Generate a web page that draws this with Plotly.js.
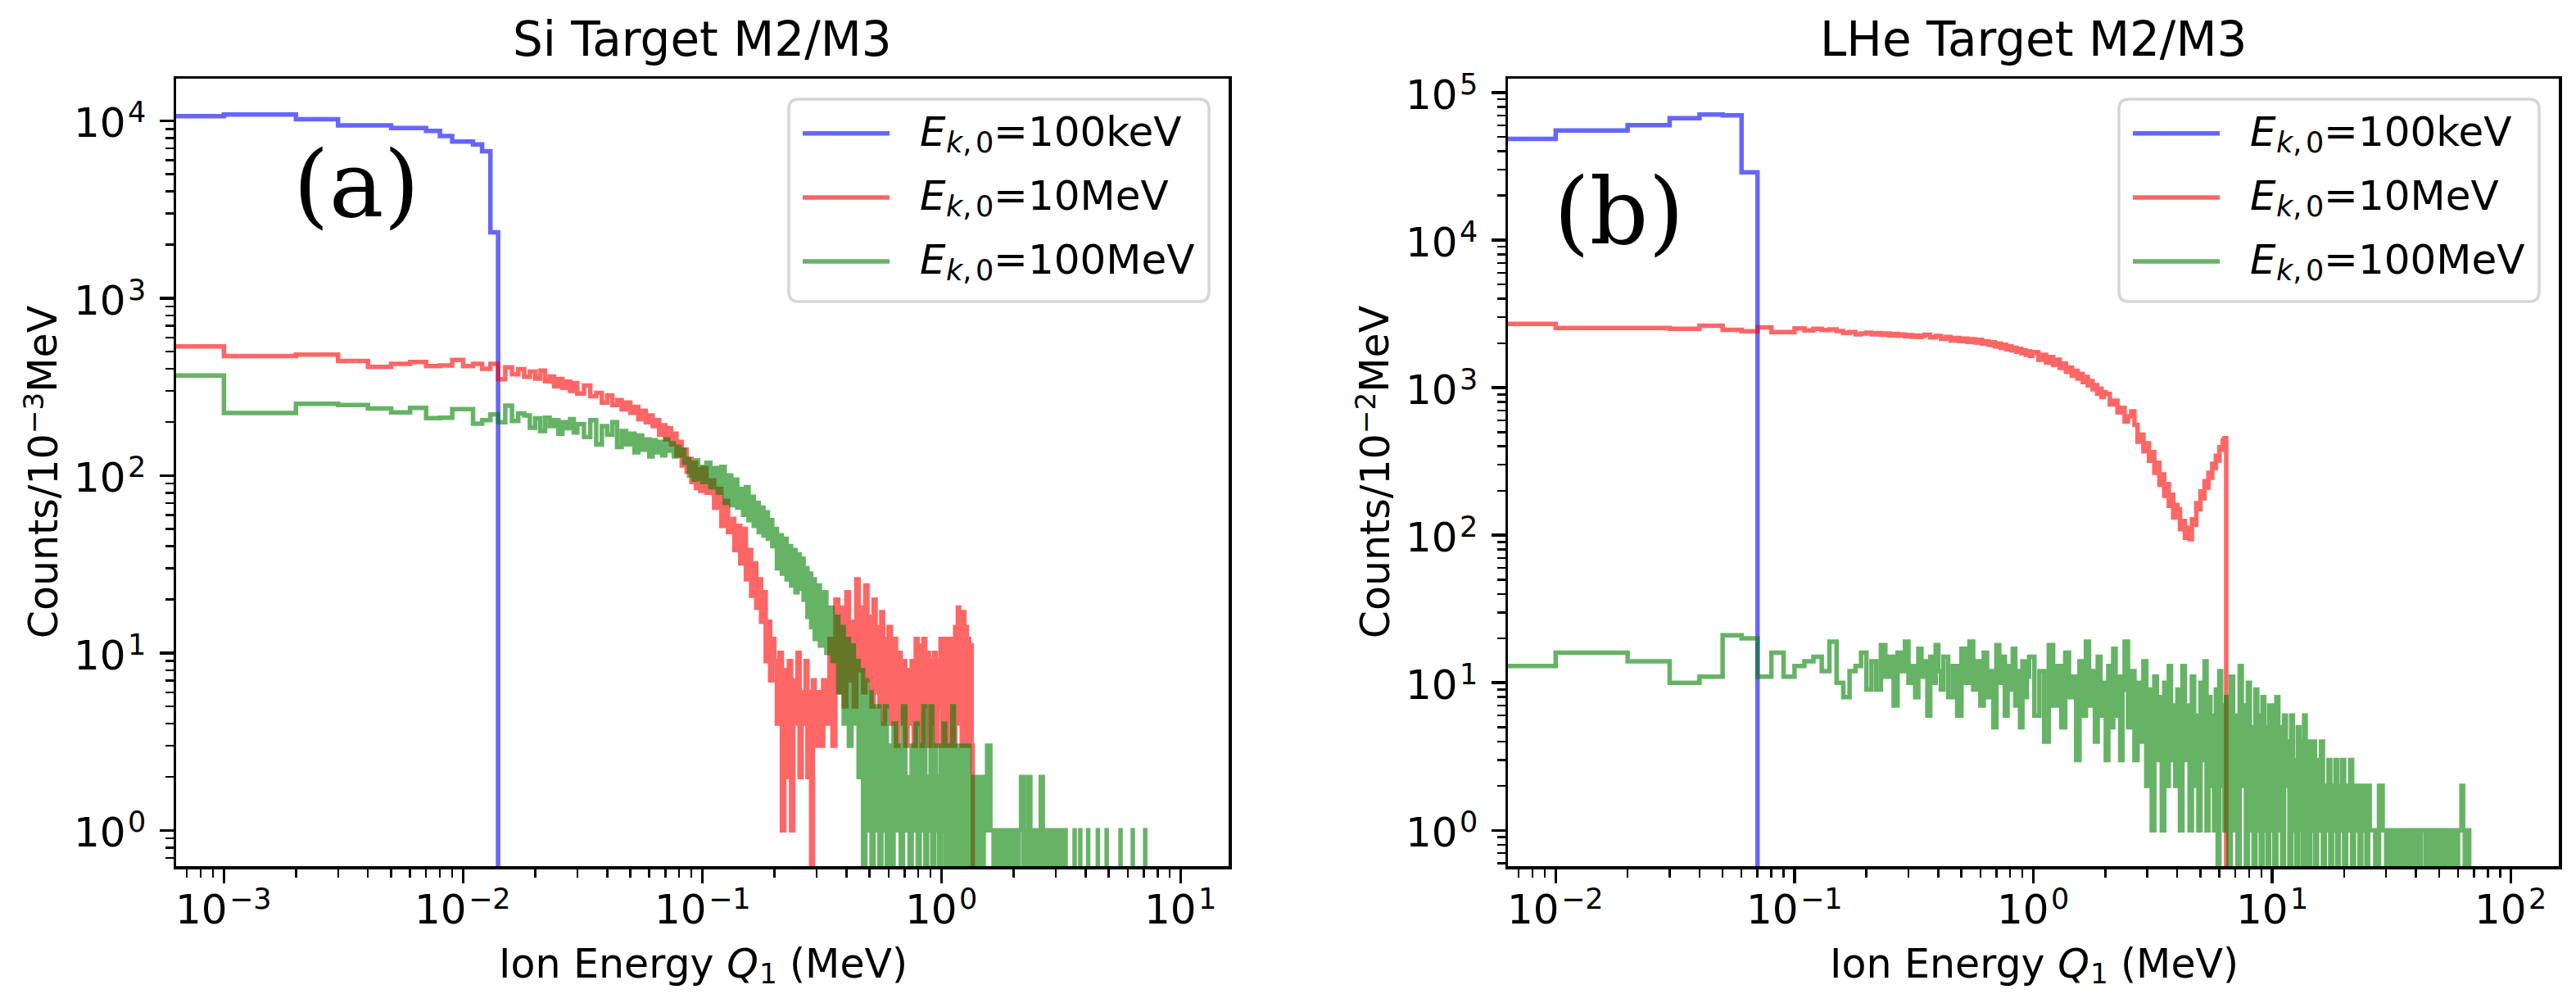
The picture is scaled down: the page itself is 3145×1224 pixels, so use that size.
<!DOCTYPE html>
<html>
<head>
<meta charset="utf-8">
<script src="https://cdn.plot.ly/plotly-3.0.1.min.js"></script>
<style>html,body{margin:0;padding:0;background:#fff;}#plot{width:3145px;height:1224px;}</style>
</head>
<body>
<div id="plot"></div>
<script>
// ---------------- DATA ----------------
// Panel (a): Si target, bin edges in keV, counts per 1e-3 MeV
const siBlueKeV = [0,1,2,3,4,5,6,7,8,9,10,11,12,13,14];
const siBlueN = [10600,10850,10200,9420,9420,9090,9090,8770,8200,7640,7640,7350,6730,2350];

const siRedKeV = [0,1,2,3,4,5,6,7,8,9,10,11,12,13,14,15,16,17,18,19,20,21,22,23,24,25,26,27,28,29,30,
32,34,36,38,40,42,44,46,48,50,52,54,56,58,60,62,64,66,68,70,72,74,76,78,80,82,84,86,88,90,92,94,96,98,100,
104,108,112,116,120,124,128,132,136,140,144,148,152,156,160,164,168,172,176,180,184,188,192,196,200,
205,210,215,220,225,230,235,240,245,250,255,260,265,270,275,280,285,290,295,300,
310,320,330,340,350,360,370,380,390,400,410,420,430,440,450,460,470,480,490,500,510,520,530,540,550,560,570,580,590,600,
615,630,645,660,675,690,705,720,735,750,765,780,795,810,825,840,855,870,885,900,915,930,945,960,975,990,1005,1020,1035,1050,1065,1080,1095,1110,1125,1140,1155,1170,1185,1200,1215,1230,1245,1260,1275,1290,1305,1320,1335,1350];
const siRedN = [535,472,481,442,410,426,437,414,417,448,414,426,400,426,349,407,
372,398,361,385,352,390,340,362,318,350,312,338,300,332,
290,322,280,292,258,283,250,266,236,258,226,244,208,232,200,218,190,205,170,192,160,185,150,172,130,155,114,140,105,124,92,118,85,108,82,
110,80,94,66,84,52,72,48,57,38,52,32,50,26,38,21,32,18,26,15,22,9,15,7,12,
9,4,10,1,8,2,9,1,7,4,10,2,6,4,9,2,6,0,7,3,
6,3,7,4,12,3,20,6,18,5,22,7,15,5,26,8,18,6,24,7,16,5,20,6,14,5,17,4,12,5,
14,4,12,3,10,4,9,3,8,4,9,3,12,4,11,3,12,5,10,3,9,4,10,3,9,5,12,3,11,4,12,3,10,4,12,3,14,4,18,5,16,3,17,4,14,3,12,5,11,3];

const siGreenKeV = [0,1,2,3,4,5,6,7,8,9,10,11,12,13,14,15,16,17,18,19,20,21,22,23,24,25,26,27,28,29,30,
32,34,36,38,40,42,44,46,48,50,52,54,56,58,60,62,64,66,68,70,72,74,76,78,80,82,84,86,88,90,92,94,96,98,100,
104,108,112,116,120,124,128,132,136,140,144,148,152,156,160,164,168,172,176,180,184,188,192,196,200,
205,210,215,220,225,230,235,240,245,250,255,260,265,270,275,280,285,290,295,300,
310,320,330,340,350,360,370,380,390,400,410,420,430,440,450,460,470,480,490,500,510,520,530,540,550,560,570,580,590,600,
615,630,645,660,675,690,705,720,735,750,765,780,795,810,825,840,855,870,885,900,915,930,945,960,975,990,1005,1020,1035,1050,1065,1080,1095,1110,1125,1140,1155,1170,1185,1200,1215,1230,1245,1260,1275,1290,1305,1320,1335,1350,1365,1380,1395,1410,1425,1440,1455,1470,1485,1500,
1550,1600,1650,1700,1750,1800,1850,1900,1950,2000,2050,2100,2150,2200,2250,2300,2350,2400,2450,2500,2550,2600,2650,2700,2750,2800,2850,2900,2950,3000,3050,3100,3150,3200,3250,3300,3350,
3600,3601,3800,3801,4100,4101,4500,4501,4900,4901,5600,5601,6300,6301,7100,7101];
const siGreenN = [366,225,254,250,239,227,241,211,212,237,237,196,205,221,200,248,
203,224,218,186,210,178,212,190,205,172,200,185,208,175,
195,165,205,150,190,170,200,145,178,150,172,135,168,140,160,128,158,135,155,130,160,138,152,128,145,130,140,118,124,100,118,95,122,96,112,
92,118,86,110,80,112,70,100,68,95,66,84,60,86,56,76,52,70,48,66,46,62,44,56,40,
50,30,46,28,44,26,40,24,38,22,36,23,34,20,30,16,28,14,26,12,
24,11,22,10,18,9,16,6,14,4,12,3,11,4,9,2,8,0,7,1,6,0,5,1,5,0,4,1,5,0,
3,0,4,1,3,0,5,1,2,0,3,1,4,0,3,1,5,0,2,1,5,0,3,1,2,0,3,1,4,0,2,1,3,0,5,1,2,0,3,1,2,0,3,1,2,0,3,1,2,0,2,0,2,0,2,0,2,0,2,0,
1,3,1,0,1,0,1,0,1,0,1,0,1,2,0,1,2,0,1,0,1,0,2,1,0,1,0,1,0,1,0,1,0,1,0,1,0,
0,1,0,1,0,1,0,1,0,1,0,1,0,1,0,1];

// Panel (b): LHe target, bin edges in units of 0.01 MeV, counts per 1e-2 MeV
const heBlueE = [0,1,2,3,4,5,6,7];
const heBlueN = [48400,55200,60100,66900,71000,70100,28800];

const heRedE = [0,1,2,3,4,5,6,7,8,9,10,11,12,13,14,15,16,17,18,19,20,21,22,23,24,25,26,27,28,29,30,31,32,33,34,35,
37,39,41,43,45,47,49,51,53,55,57,59,61,63,65,67,69,71,73,75,77,79,81,83,85,87,89,91,93,95,97,99,101,
105,109,113,117,121,125,129,133,137,141,145,149,153,157,161,165,169,173,177,181,185,189,193,197,201,
209,217,225,233,241,249,257,265,273,281,289,297,305,313,321,329,337,345,353,361,369,377,385,393,401,
411,421,431,441,451,461,471,481,491,501,511,521,531,541,551,561,571,581,591,601,611,621,631,642];
const heRedN = [2705,2540,2540,2505,2630,2466,2410,2560,2380,2380,2517,2440,2500,2455,2480,2420,2350,2380,2300,2330,2360,2300,2340,2280,2330,2260,2310,2250,2290,2230,2270,2210,2250,2200,2240,
2280,2190,2240,2140,2200,2090,2170,2070,2150,2040,2130,2020,2110,1990,2060,1950,2030,1900,1990,1860,1950,1820,1900,1790,1860,1750,1830,1710,1790,1670,1760,1640,1720,
1740,1545,1670,1480,1610,1425,1545,1360,1460,1280,1370,1205,1300,1150,1240,1090,1180,1035,1110,975,1040,910,980,865,930,
905,770,815,680,730,590,640,690,560,430,480,370,420,320,365,265,310,220,258,185,222,158,188,132,160,
150,110,125,96,112,94,128,118,165,150,198,178,232,210,265,245,305,285,345,320,395,380,440,455];

const heGreenE = [0,1,2,3,4,5,6,7,8,9,10,11,12,13,14,15,16,17,18,19,20,21,22,23,24,25,26,27,28,29,30,31,32,33,34,35,36,37,38,39,40,41,42,
44,46,48,50,52,54,56,58,60,62,64,66,68,70,72,74,76,78,80,82,84,86,88,90,92,94,96,
101,106,111,116,121,126,131,136,141,146,151,156,161,166,171,176,181,186,191,196,201,206,211,216,221,226,231,236,241,
249,257,265,273,281,289,297,305,313,321,329,337,345,353,361,369,377,385,393,401,
411,421,431,441,451,461,471,481,491,501,511,521,531,541,551,561,571,581,591,601,611,621,631,641,
656,671,686,701,716,731,746,761,776,791,806,821,836,851,866,881,896,911,926,941,956,971,986,1001,
1021,1041,1061,1081,1101,1121,1141,1161,1181,1201,1221,1241,1261,1281,1301,1321,1341,1361,1381,1401,1421,1441,1461,1481,
1511,1541,1571,1601,1631,1661,1691,1721,1751,1781,1811,1841,1871,1901,1931,1961,
2001,2041,2081,2121,2161,2201,2241,2281,2321,2361,2401,2441,2481,2521,2561,2601,
2701,2801,2901,3001,3101,3201,3301,3401,3501,3601,3751,3801,3951,4101,4201,4401,4501,4701,4801,5001,5101,5301,5401,5601,5701,5901,6001,6201,6301,6401,6501,6681];
const heGreenN = [13,16,14,10,11,21,20,11,16,11,13,14,15,12,19,10,8,12,13,16,9,
14,9,18,11,15,7,16,12,19,10,13,8,17,11,14,6,15,10,18,12,9,
15,8,13,6,17,10,19,9,14,7,16,8,12,5,18,10,15,6,13,9,17,7,12,5,14,8,11,
15,6,12,4,18,7,13,5,16,8,11,3,14,6,19,7,12,4,15,6,10,3,13,5,17,6,11,3,9,
19,5,12,3,10,4,14,2,9,1,11,3,8,1,10,2,13,3,7,2,
9,1,13,3,7,1,11,2,6,1,10,3,14,1,8,2,6,1,9,0,12,2,7,1,
8,0,11,1,6,0,13,2,7,0,10,1,5,0,9,1,6,0,8,1,5,0,7,1,
7,0,8,1,5,0,6,2,4,0,6,1,3,0,5,1,4,0,6,1,3,0,4,1,
4,0,3,1,4,0,2,1,3,0,2,1,3,0,2,1,
3,0,2,1,3,0,2,1,2,0,2,1,2,0,2,1,
1,0,2,1,0,1,0,1,0,1,0,1,0,1,0,1,0,1,0,1,0,1,0,1,0,1,0,1,2,1,0,1];

const seriesNames = ['Ek,0=100keV','Ek,0=10MeV','Ek,0=100MeV'];
const legendValues = ['=100keV','=10MeV','=100MeV'];
const colors = ['rgba(0,0,255,0.6)','rgba(255,0,0,0.6)','rgba(0,128,0,0.6)'];
const siXTicks = [-3,-2,-1,0,1];   // decade exponents
const heXTicks = [-2,-1,0,1,2];
const siYTicks = [0,1,2,3,4];
const heYTicks = [0,1,2,3,4,5];

// ---------------- LAYOUT HELPERS ----------------
const W = 3145, H = 1224;
const FONT = 'DejaVu Sans';
const px = p => p / W;
const py = p => 1 - p / H;
const FLOOR = 1e-3;

function stepTrace(edges, counts, scale, color, xa, ya, name) {
  const x = [], y = [];
  const ex = e => (e > 0 ? e * scale : 1e-7);
  x.push(ex(edges[0])); y.push(FLOOR);
  for (let i = 0; i < counts.length; i++) {
    x.push(ex(edges[i]));
    y.push(counts[i] > 0 ? counts[i] : FLOOR);
  }
  x.push(ex(edges[edges.length - 1])); y.push(FLOOR);
  return {type:'scatter', mode:'lines', x, y, xaxis:xa, yaxis:ya, name,
    line:{shape:'hv', color, width:5.5, simplify:false}, hoverinfo:'skip', showlegend:false};
}
function minorVals(k0, k1) {
  const v = [];
  for (let k = k0; k <= k1; k++) for (let m = 2; m <= 9; m++) v.push(m * Math.pow(10, k));
  return v;
}
function axis(domain, range, ticks, minor, anchor) {
  return {
    type:'log', domain, range, anchor,
    showline:true, mirror:true, linecolor:'black', linewidth:3.5,
    ticks:'outside', ticklen:17, tickwidth:3.5, tickcolor:'black',
    tickmode:'array', tickvals: ticks.map(k => Math.pow(10, k)), showticklabels:false,
    minor:{ticks:'outside', ticklen:10, tickwidth:2.5, tickcolor:'black', tickmode:'array', tickvals:minor, showgrid:false},
    showgrid:false, zeroline:false, fixedrange:true
  };
}
function roundRect(l, t, r, b, rad) {
  const L = px(l), R = px(r), T = py(t), B = py(b), rx = rad / W, ry = rad / H;
  return `M${L+rx},${T} L${R-rx},${T} Q${R},${T} ${R},${T-ry} L${R},${B+ry} Q${R},${B} ${R-rx},${B} ` +
         `L${L+rx},${B} Q${L},${B} ${L},${B+ry} L${L},${T-ry} Q${L},${T} ${L+rx},${T} Z`;
}

// plot boxes (pixels)
const A = {l:215, r:1500, t:96, b:1057};
const B = {l:1841, r:3124, t:96, b:1057};

const traces = [
  stepTrace(siBlueKeV, siBlueN, 1e-3, colors[0], 'x', 'y', seriesNames[0]),
  stepTrace(siRedKeV, siRedN, 1e-3, colors[1], 'x', 'y', seriesNames[1]),
  stepTrace(siGreenKeV, siGreenN, 1e-3, colors[2], 'x', 'y', seriesNames[2]),
  stepTrace(heBlueE, heBlueN, 1e-2, colors[0], 'x2', 'y2', seriesNames[0]),
  stepTrace(heRedE, heRedN, 1e-2, colors[1], 'x2', 'y2', seriesNames[1]),
  stepTrace(heGreenE, heGreenN, 1e-2, colors[2], 'x2', 'y2', seriesNames[2])
];

const shapes = [], annotations = [];
function ann(o) {
  const size = o.size || 50; delete o.size;
  const family = o.family || FONT; delete o.family;
  annotations.push(Object.assign({showarrow:false, borderpad:0, xanchor:'left', yanchor:'middle',
    font:{family, size, color:'black'}}, o));
}

// tick labels: "10" plus a raised exponent (mathtext style)
const expText = k => (k < 0 ? '\u2212' + (-k) : String(k));
const expWidth = k => (k < 0 ? 0.838 + 0.636 * String(-k).length : 0.636 * String(k).length) * 35;
function xTickLabels(ticks, xref) {
  ticks.forEach(k => {
    const off = 63.6 - (63.6 + expWidth(k)) / 2;
    ann({xref, x:k, yref:'paper', y:py(1127 - 17.3), xanchor:'right', xshift:off, text:'10', size:50});
    ann({xref, x:k, yref:'paper', y:py(1127 - 18 - 12.1), xanchor:'left', xshift:off, text:expText(k), size:35});
  });
}
function yTickLabels(ticks, yref, axisLeft) {
  ticks.forEach(k => {
    ann({xref:'paper', x:px(axisLeft - 60.3), xanchor:'right', yref, y:k, yshift:-2.7, text:'10', size:50});
    ann({xref:'paper', x:px(axisLeft - 60.3), xanchor:'left', yref, y:k, yshift:10.1, text:expText(k), size:35});
  });
}
xTickLabels(siXTicks, 'x'); xTickLabels(heXTicks, 'x2');
yTickLabels(siYTicks, 'y', A.l); yTickLabels(heYTicks, 'y2', B.l);

// legends (drawn like matplotlib's)
function legendBox(box) {
  const right = box.r - 24, left = right - 513, top = 121, bottom = 368;
  shapes.push({type:'path', xref:'paper', yref:'paper', path: roundRect(left, top, right, bottom, 12),
    line:{color:'#d6d6d6', width:3.5}, fillcolor:'rgba(255,255,255,0.8)', layer:'above'});
  [162.7, 241, 319].forEach((yy, i) => {
    shapes.push({type:'line', xref:'paper', yref:'paper', x0:px(left+17), x1:px(left+123), y0:py(yy), y1:py(yy),
      line:{color:colors[i], width:5.5}, layer:'above'});
    ann({xref:'paper', yref:'paper', x:px(left+159), y:py(yy - 1.7), text:'<i>E</i>', size:50});
    ann({xref:'paper', yref:'paper', x:px(left+190.5), y:py(yy + 11), text:'<i>k</i>,', size:35});
    ann({xref:'paper', yref:'paper', x:px(left+227), y:py(yy + 11), text:'0', size:35});
    ann({xref:'paper', yref:'paper', x:px(left+249), y:py(yy - 1.7), text:legendValues[i], size:50});
  });
}
legendBox(A); legendBox(B);

// titles, panel labels
[[A, 'Si Target M2/M3'], [B, 'LHe Target M2/M3']].forEach(([bx, t]) => {
  ann({xref:'paper', yref:'paper', x:px((bx.l + bx.r) / 2), y:py(48), xanchor:'center', text:t, size:58});
});
ann({xref:'paper', yref:'paper', x:px(435), y:py(225), xanchor:'center', text:'(a)', size:112, family:'DejaVu Serif'});
ann({xref:'paper', yref:'paper', x:px(1976), y:py(258), xanchor:'center', text:'(b)', size:112, family:'DejaVu Serif'});

// x-axis titles: "Ion Energy Q" + subscript 1 + "(MeV)"
[A, B].forEach(bx => {
  const left = (bx.l + bx.r) / 2 - 249.6;
  ann({xref:'paper', yref:'paper', x:px(left), y:py(1176), text:'Ion Energy <i>Q</i>', size:49});
  ann({xref:'paper', yref:'paper', x:px(left + 317.7), y:py(1188.1), text:'1', size:34.3});
  ann({xref:'paper', yref:'paper', x:px(left + 355.1), y:py(1176), text:'(MeV)', size:49});
});
// y-axis titles (rotated): "Counts/10" + superscript exponent + "MeV"
[[0, '\u22123'], [B.l - A.l, '\u22122']].forEach(([dx, e]) => {
  ann({xref:'paper', yref:'paper', x:px(53 + dx), y:py(780.2), xanchor:'center', yanchor:'bottom', textangle:-90, text:'Counts/10', size:49});
  ann({xref:'paper', yref:'paper', x:px(40.5 + dx), y:py(530.3), xanchor:'center', yanchor:'bottom', textangle:-90, text:e, size:34.3});
  ann({xref:'paper', yref:'paper', x:px(53 + dx), y:py(479.7), xanchor:'center', yanchor:'bottom', textangle:-90, text:'MeV', size:49});
});

const layout = {
  width:W, height:H, margin:{l:0, r:0, t:0, b:0}, paper_bgcolor:'white', plot_bgcolor:'white',
  showlegend:false,
  font:{family:FONT, color:'black'},
  xaxis: axis([px(A.l), px(A.r)], [-3.2, 1.2], siXTicks, minorVals(-4, 1), 'y'),
  yaxis: axis([py(A.b), py(A.t)], [-0.2018, 4.2372], siYTicks, minorVals(-1, 4), 'x'),
  xaxis2: axis([px(B.l), px(B.r)], [-2.2, 2.2], heXTicks, minorVals(-3, 2), 'y2'),
  yaxis2: axis([py(B.b), py(B.t)], [-0.2426, 5.0936], heYTicks, minorVals(-1, 5), 'x2'),
  shapes, annotations
};
Plotly.newPlot('plot', traces, layout, {displayModeBar:false, staticPlot:true});
</script>
</body>
</html>
